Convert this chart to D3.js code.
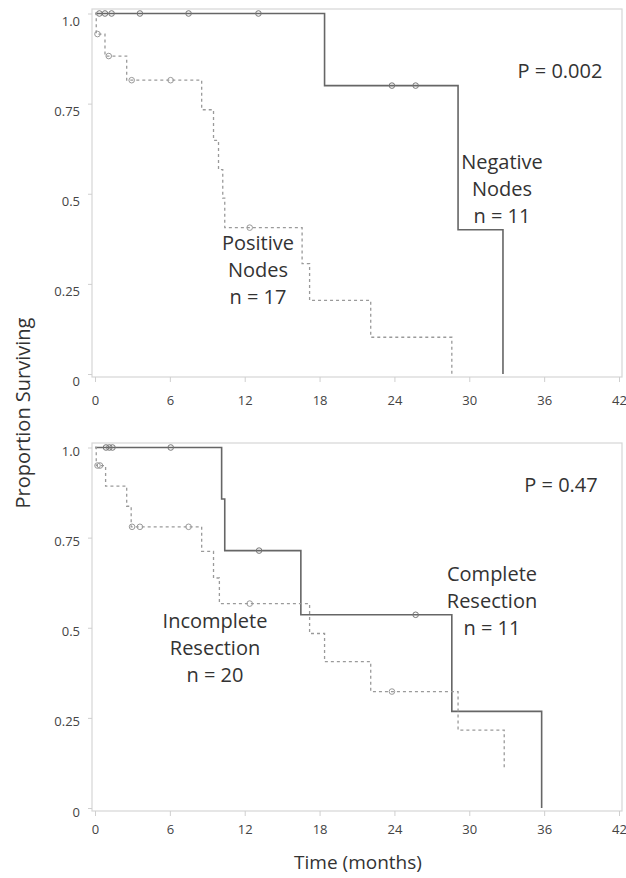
<!DOCTYPE html>
<html>
<head>
<meta charset="utf-8">
<script src="https://cdn.jsdelivr.net/npm/d3@7"></script>
<style>
  body { margin: 0; background: #fff; }
  svg { display: block; font-family: "Open Sans", sans-serif; }
</style>
</head>
<body>
<svg id="chart" width="626" height="878"></svg>
<script>
// axis ticks
var timeTicks = [0, 6, 12, 18, 24, 30, 36, 42];
var survTicks = [0, 0.25, 0.5, 0.75, 1.0];
var survTickLabels = ["0", "0.25", "0.5", "0.75", "1.0"];

// top panel - negative nodes (solid)
var negTimes = [0, 18.4, 29.1, 32.7];
var negSurv = [1.0, 0.8, 0.4, 0];
var negCensor = [0.35, 0.8, 1.33, 3.6, 7.5, 13.1, 23.8, 25.7];

// top panel - positive nodes (dashed)
var posTimes = [0, 0.1, 0.8, 2.54, 8.55, 9.5, 9.9, 10.24, 10.4, 16.6, 17.2, 22.1, 28.6];
var posSurv = [1.0, 0.943, 0.882, 0.815, 0.733, 0.648, 0.567, 0.488, 0.406, 0.306, 0.204, 0.102, 0];
var posCensor = [0.2, 1.1, 2.94, 6.06, 12.4];

// bottom panel - complete resection (solid)
var compTimes = [0, 10.15, 10.4, 16.5, 28.6, 35.8];
var compSurv = [1.0, 0.857, 0.714, 0.536, 0.268, 0];
var compCensor = [0.88, 1.15, 1.4, 6.07, 13.15, 25.7];

// bottom panel - incomplete resection (dashed)
var incTimes = [0, 0.1, 0.85, 2.54, 2.9, 8.55, 9.5, 9.97, 17.2, 18.4, 22.1, 29.1, 32.8];
var incSurv = [1.0, 0.95, 0.893, 0.837, 0.78, 0.712, 0.638, 0.567, 0.484, 0.406, 0.323, 0.216, 0.105];
var incCensor = [0.2, 0.4, 2.97, 3.6, 7.5, 12.4, 23.8];

var svg = d3.select("#chart");

var x = d3.scaleLinear().domain([0, 42]).range([95, 619]);

//survival value at time t for a step curve
function survAt(times, surv, t) {
  var s = surv[0];
  for (var i = 0; i < times.length; i++) {
    if (times[i] <= t) s = surv[i];
  }
  return s;
}

function drawPanel(cfg) {
  var y = d3.scaleLinear().domain([0, 1]).range([cfg.y0, cfg.y1]);
  var g = svg.append("g");

  var boxTop = cfg.y1 - 4.5, boxBottom = cfg.y0 + 3;

  // plot frame
  g.append("rect")
    .attr("x", 92).attr("y", boxTop)
    .attr("width", 622 - 92).attr("height", boxBottom - boxTop)
    .attr("fill", "none").attr("stroke", "#d6d6d6").attr("stroke-width", 1.2);

  // x axis ticks + labels
  var xAxis = g.append("g")
    .attr("transform", "translate(0," + boxBottom + ")")
    .call(d3.axisBottom(x).tickValues(timeTicks).tickSize(5).tickPadding(0).tickFormat(d3.format("d")));
  xAxis.select(".domain").remove();
  xAxis.selectAll(".tick line").attr("stroke", "#cfcfcf");
  xAxis.selectAll(".tick text")
    .attr("y", cfg.xLabelDy).attr("dy", "0.35em")
    .attr("fill", "#444").style("font-size", "13px").style("font-family", "Open Sans, sans-serif");

  // y axis ticks + labels
  var yAxis = g.append("g")
    .attr("transform", "translate(92,0)")
    .call(d3.axisLeft(y).tickValues(survTicks).tickSize(4)
      .tickFormat(function (d, i) { return survTickLabels[i]; }));
  yAxis.select(".domain").remove();
  yAxis.selectAll(".tick line").attr("stroke", "#cfcfcf");
  yAxis.selectAll(".tick text")
    .attr("x", -12).attr("y", cfg.yLabelDy).attr("dy", "0.35em")
    .attr("fill", "#444").style("font-size", "13px").style("font-family", "Open Sans, sans-serif");

  var line = d3.line()
    .x(function (d) { return x(d[0]); })
    .y(function (d) { return y(d[1]); })
    .curve(d3.curveStepAfter);

  cfg.series.forEach(function (s) {
    var pts = s.times.map(function (t, i) { return [t, s.surv[i]]; });
    g.append("path")
      .datum(pts)
      .attr("d", line)
      .attr("fill", "none")
      .attr("stroke", s.dashed ? "#9a9a9a" : "#666")
      .attr("stroke-width", s.dashed ? 1.3 : 1.6)
      .attr("stroke-dasharray", s.dashed ? "3,3" : null);

    g.selectAll(null)
      .data(s.censor)
      .enter().append("circle")
      .attr("cx", function (t) { return x(t); })
      .attr("cy", function (t) { return y(survAt(s.times, s.surv, t)); })
      .attr("r", 2.8)
      .attr("fill", "none")
      .attr("stroke", s.dashed ? "#999" : "#777")
      .attr("stroke-width", 1);
  });

  // annotations
  g.append("text")
    .attr("x", cfg.pX).attr("y", cfg.pY).attr("dy", "0.35em")
    .attr("text-anchor", "middle").attr("fill", "#333")
    .style("font-size", "20px")
    .text(cfg.pText);

  cfg.labels.forEach(function (lab) {
    var t = g.append("text")
      .attr("text-anchor", "middle").attr("fill", "#333")
      .style("font-size", "20px");
    lab.lines.forEach(function (ln, i) {
      t.append("tspan")
        .attr("x", lab.x).attr("y", lab.y + i * 27).attr("dy", "0.35em")
        .text(ln);
    });
  });
}

drawPanel({
  y0: 374, y1: 13.5,
  xLabelDy: 23, yLabelDy: 7,
  series: [
    { times: negTimes, surv: negSurv, censor: negCensor, dashed: false },
    { times: posTimes, surv: posSurv, censor: posCensor, dashed: true }
  ],
  pText: "P = 0.002", pX: 560, pY: 71,
  labels: [
    { lines: ["Negative", "Nodes", "n = 11"], x: 502, y: 162 },
    { lines: ["Positive", "Nodes", "n = 17"], x: 258, y: 243 }
  ]
});

drawPanel({
  y0: 808, y1: 447.5,
  xLabelDy: 18, yLabelDy: 3.5,
  series: [
    { times: compTimes, surv: compSurv, censor: compCensor, dashed: false },
    { times: incTimes, surv: incSurv, censor: incCensor, dashed: true }
  ],
  pText: "P = 0.47", pX: 561, pY: 485,
  labels: [
    { lines: ["Complete", "Resection", "n = 11"], x: 492, y: 574 },
    { lines: ["Incomplete", "Resection", "n = 20"], x: 215, y: 621 }
  ]
});

// axis titles
svg.append("text")
  .attr("transform", "translate(23,413) rotate(-90)")
  .attr("text-anchor", "middle").attr("dy", "0.35em")
  .attr("fill", "#333").style("font-size", "20px")
  .text("Proportion Surviving");

svg.append("text")
  .attr("x", 358).attr("y", 862).attr("dy", "0.35em")
  .attr("text-anchor", "middle")
  .attr("fill", "#333").style("font-size", "19px")
  .text("Time (months)");
</script>
</body>
</html>
